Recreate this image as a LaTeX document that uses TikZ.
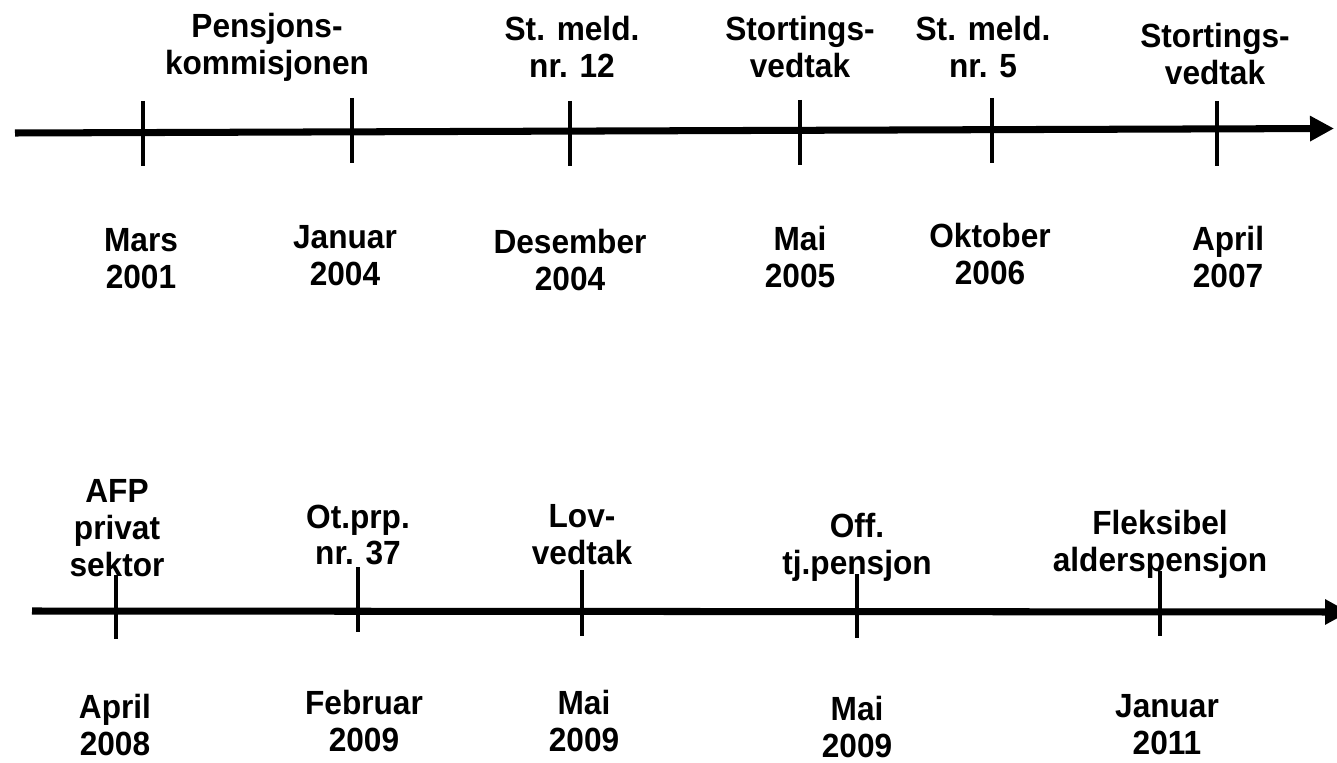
\documentclass[tikz,border=0pt]{standalone}
\usepackage{fontspec}
\setmainfont{Liberation Sans}
\usetikzlibrary{arrows.meta}
\tikzset{
  axis/.style={line width=4pt, -{Triangle[length=0.48cm, width=0.48cm]}},
  tick/.style={line width=2.8pt},
  lbl/.style={font=\bfseries\fontsize{18}{19.8}\selectfont, align=center, inner sep=0pt,
    transform shape, yscale=1.06}
}
\begin{document}
\begin{tikzpicture}[x=0.02cm, y=-0.02cm, line join=round]
			\useasboundingbox (0,0) rectangle (1337,763);
			\path
			(15,133) coordinate (T0)
			(1334,128.5) coordinate (T1)
			(32,611) coordinate (B0)
			(1349,612) coordinate (B1);
			\draw[axis] (T0)--(T1);
			\draw[axis] (B0)--(B1);
			% ticks on the two lines
			\foreach \x/\a/\b in {143/101/166, 352/98/163, 570/101/166, 800/100/165, 992/98/163, 1217/101/166,
				116/575/639, 358/567/632, 582/570/636, 857/574/638, 1160/571/636}
			\draw[tick] (\x,\a)--(\x,\b);
			% events above, dates below
			\foreach \n/\x/\y/\t in {
				pk/267/47/{Pensjons-\\kommisjonen}, sm12/572/47/{St. meld.\\nr. 12},
				sv05/800/47/{Stortings-\\vedtak}, sm5/983/47/{St. meld.\\nr. 5},
				sv07/1215/54/{Stortings-\\vedtak},
				d01/141/259/{Mars\\2001}, d04a/345/256/{Januar\\2004}, d04b/570/260/{Desember\\2004},
				d05/800/257/{Mai\\2005}, d06/990/254/{Oktober\\2006}, d07/1228/257/{April\\2007},
				afp/117/528/{AFP\\privat\\sektor}, ot37/358/535/{Ot.prp.\\nr. 37},
				lov/582/535/{Lov-\\vedtak}, off/857/547/{Off.\\tj.pensjon},
				fa/1160/544/{Fleksibel\\alderspensjon},
				d08/115/725/{April\\2008}, d09a/364/721/{Februar\\2009}, d09b/584/721/{Mai\\2009},
				d09c/857/727/{Mai\\2009}, d11/1167/725/{Januar\\2011}}
			\node[lbl] (\n) at (\x,\y) {\t};
\end{tikzpicture}
\end{document}
